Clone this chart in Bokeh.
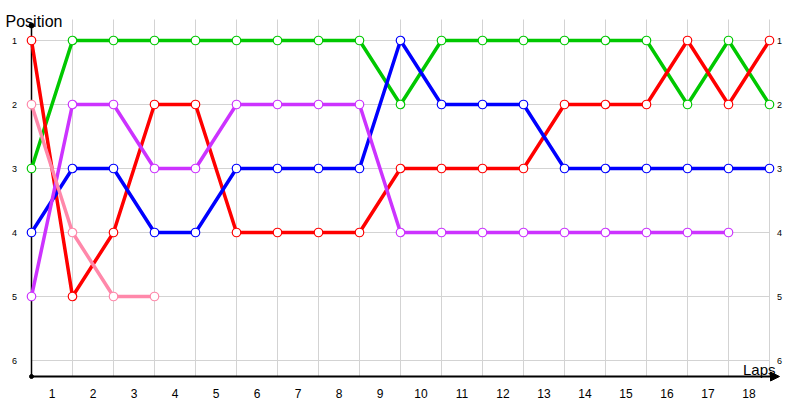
from bokeh.plotting import figure
from bokeh.models import Range1d, Arrow, NormalHead
from bokeh.core.properties import value
from bokeh.embed import file_html
from bokeh.resources import INLINE

# ---- data ----
position_labels = ["1", "2", "3", "4", "5", "6"]
lap_labels = [str(i) for i in range(1, 19)]

red = [1, 5, 4, 2, 2, 4, 4, 4, 4, 3, 3, 3, 3, 2, 2, 2, 1, 2, 1]
green = [3, 1, 1, 1, 1, 1, 1, 1, 1, 2, 1, 1, 1, 1, 1, 1, 2, 1, 2]
blue = [4, 3, 3, 4, 4, 3, 3, 3, 3, 1, 2, 2, 2, 3, 3, 3, 3, 3, 3]
purple = [5, 2, 2, 3, 3, 2, 2, 2, 2, 4, 4, 4, 4, 4, 4, 4, 4, 4]
pink = [2, 4, 5, 5]

series = [
    (green, "#00c800"),
    (red, "#ff0000"),
    (blue, "#0000ff"),
    (purple, "#cc33ff"),
    (pink, "#ff88aa"),
]

# ---- layout (pixels) ----
W, H = 800, 400
MARGIN = 0
PX0 = 31 - MARGIN      # canvas x of lap 0
PX_LAP = 41            # pixels per lap
PY1 = 40 - MARGIN      # canvas y of position 1
PY_POS = 64            # pixels per position


def dx(wx):
    return (wx - MARGIN - PX0) / PX_LAP


def dy(wy):
    return 1 + (wy - MARGIN - PY1) / PY_POS


n_laps = len(lap_labels)
n_pos = len(position_labels)

p = figure(width=W, height=H, output_backend="svg", toolbar_location=None,
           x_axis_location=None, y_axis_location=None,
           x_range=Range1d(dx(MARGIN), dx(MARGIN + W)),
           y_range=Range1d(dy(MARGIN + H), dy(MARGIN)),
           min_border=0, outline_line_color=None)
p.xgrid.visible = False
p.ygrid.visible = False
p.background_fill_color = "white"
p.border_fill_color = "white"

grid_col = "#d3d3d3"
# vertical grid lines at each lap boundary
vx = list(range(1, n_laps + 1))
p.segment(x0=vx, x1=vx, y0=[dy(19)] * len(vx), y1=[dy(376)] * len(vx),
          line_color=grid_col, line_width=1)
# horizontal grid lines at each position
hy = [int(s) for s in position_labels]
p.segment(x0=[0] * len(hy), x1=[n_laps] * len(hy), y0=hy, y1=hy,
          line_color=grid_col, line_width=1)

# axes
p.segment(x0=[0], x1=[0], y0=[dy(25)], y1=[dy(376)], line_color="black", line_width=1.5)
p.add_layout(Arrow(end=NormalHead(size=9, fill_color="black", line_color="black"),
                   x_start=0, y_start=dy(376), x_end=dx(779), y_end=dy(376),
                   line_color="black", line_width=2))
p.scatter(x=[0], y=[dy(25)], size=5, color="black")
p.scatter(x=[0], y=[dy(376)], size=4, color="black")

# series lines
for vals, col in series:
    p.line(x=list(range(len(vals))), y=vals, line_color=col, line_width=3.5)
for vals, col in series:
    p.scatter(x=list(range(len(vals))), y=vals, size=8.5, fill_color="white",
              line_color=col, line_width=1.2)

font = value("Liberation Sans")

# y tick labels left and right
p.text(x=[0] * n_pos, y=hy, text=position_labels, x_offset=-17,
       text_font=font, text_font_size="9px", text_align="center",
       text_baseline="middle", text_color="black")
p.text(x=[n_laps] * n_pos, y=hy, text=position_labels, x_offset=10,
       text_font=font, text_font_size="9px", text_align="center",
       text_baseline="middle", text_color="black")

# x tick labels centred between laps
p.text(x=[i + 0.5 for i in range(n_laps)], y=[dy(393)] * n_laps, text=lap_labels,
       text_font=font, text_font_size="12px", text_align="center",
       text_baseline="alphabetic", text_color="black")

# axis titles
p.text(x=[dx(5)], y=[dy(21)], text=["Position"], text_font=font,
       text_font_size="16px", text_align="left", text_baseline="alphabetic",
       text_color="black")
p.text(x=[dx(775)], y=[dy(369)], text=["Laps"], text_font=font,
       text_font_size="15px", text_align="right", text_baseline="alphabetic",
       text_color="black")

open("out.html", "w").write(file_html(p, INLINE))
